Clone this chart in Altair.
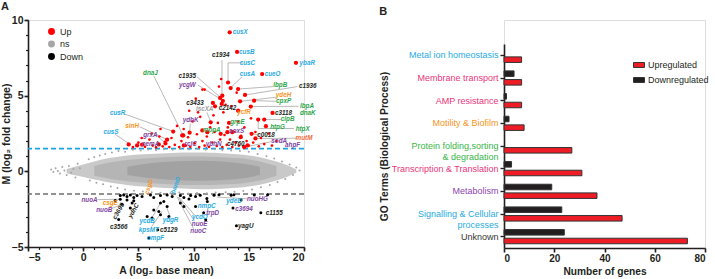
import altair as alt
import pandas as pd

FONT = "Liberation Sans"

# ---------------- Panel A: MA plot ----------------
# envelope of the dense grey (ns) cloud
cloud_A = [-1.5, -0.5, 0.5, 1.5, 2.5, 3.5, 4.5, 5.5, 6.5, 7.5, 8.5, 9.5, 10.5, 11.5, 12.5, 13.5, 14.5, 15.5, 16.5, 17.5, 18.5, 19.3]
outer_lo = [-0.12, -0.3, -0.45, -0.6, -0.75, -0.85, -0.95, -1.0, -1.05, -1.1, -1.12, -1.15, -1.18, -1.18, -1.15, -1.1, -1.05, -0.95, -0.8, -0.6, -0.35, -0.1]
outer_hi = [0.15, 0.35, 0.55, 0.75, 0.9, 1.0, 1.08, 1.13, 1.17, 1.2, 1.22, 1.24, 1.24, 1.22, 1.2, 1.15, 1.1, 1.0, 0.85, 0.65, 0.4, 0.12]
mid_A = [1.0, 2.5, 4.0, 5.5, 7.0, 8.5, 10.0, 11.5, 13.0, 14.5, 16.0, 17.5]
mid_lo = [-0.3, -0.5, -0.65, -0.75, -0.82, -0.88, -0.9, -0.9, -0.85, -0.78, -0.6, -0.3]
mid_hi = [0.35, 0.6, 0.75, 0.85, 0.92, 0.97, 0.98, 0.97, 0.92, 0.85, 0.65, 0.35]
core_A = [4.0, 5.5, 7.0, 8.5, 10.0, 11.5, 13.0, 14.5, 16.0]
core_lo = [-0.25, -0.4, -0.5, -0.58, -0.62, -0.6, -0.55, -0.45, -0.25]
core_hi = [0.3, 0.48, 0.6, 0.66, 0.7, 0.68, 0.62, 0.5, 0.3]

# scattered grey (ns) points at the edge of the cloud
ns_A = [-2.9, -2.7, -2.5, -2.3, -2.1, -1.9, -1.7, -1.5, -1.3, -1.1, -0.9, -0.7, -0.5, -0.3,
        0.5, 1.0, 1.5, 2.0, 2.6, 3.2, 3.8, 4.5, 5.2, 5.9, 6.6, 7.3, 8.1, 8.8, 9.6, 10.4, 11.1, 11.9, 12.6, 13.4, 14.2, 15.0, 15.8, 16.6, 17.3, 18.0, 18.7, 19.3, 19.6,
        0.6, 1.2, 1.8, 2.5, 3.1, 3.8, 4.6, 5.4, 6.2, 7.0, 7.9, 8.7, 9.5, 10.3, 11.2, 12.0, 12.9, 13.7, 14.5, 15.3, 16.1, 16.9, 17.6, 18.3, 19.0]
ns_M = [0.12, -0.05, 0.2, 0.02, -0.15, 0.28, 0.05, -0.25, 0.35, -0.1, 0.15, -0.4, 0.5, 0.2,
        0.8, 0.95, 1.05, 1.15, 1.25, 1.35, 1.3, 1.42, 1.38, 1.45, 1.4, 1.46, 1.42, 1.47, 1.44, 1.47, 1.42, 1.46, 1.4, 1.38, 1.35, 1.3, 1.15, 1.0, 0.85, 0.65, 0.45, 0.25, 0.05,
        -0.6, -0.75, -0.85, -1.0, -1.1, -1.2, -1.28, -1.33, -1.38, -1.42, -1.45, -1.4, -1.46, -1.43, -1.45, -1.4, -1.38, -1.35, -1.3, -1.2, -1.05, -0.9, -0.7, -0.5, -0.25]

# unlabelled up-regulated genes (small red dots)
up_small_A = [4.5, 5.0, 5.6, 6.0, 6.3, 6.6, 6.9, 7.2, 7.4, 7.8, 8.0, 8.3, 8.5, 8.7, 8.9, 9.1, 9.3, 9.5, 9.7, 9.9,
              10.1, 10.3, 10.5, 10.6, 10.8, 11.0, 11.2, 11.4, 11.5, 11.7, 11.9, 12.1, 12.2, 12.4, 12.6, 12.7, 12.8,
              13.0, 13.1, 13.3, 13.4, 13.5, 13.7, 13.8, 14.0, 14.1, 14.3, 14.5, 14.6, 14.8, 15.0, 15.2, 15.4, 15.6,
              15.9, 16.1, 16.4, 16.8, 17.1, 17.5, 12.3, 12.5, 12.9, 11.0, 10.2, 9.6, 13.9, 7.0, 6.2, 5.3, 11.8, 10.4, 10.8]
up_small_M = [1.6, 1.9, 1.62, 2.1, 1.7, 1.58, 2.3, 1.65, 1.95, 1.6, 2.2, 1.75, 3.0, 1.6, 2.0, 2.8, 1.7, 2.25, 1.62, 3.3,
              1.85, 2.45, 1.6, 3.6, 2.0, 1.7, 2.3, 1.62, 2.9, 1.9, 2.6, 1.68, 3.2, 2.1, 1.6, 3.9, 2.4,
              1.75, 2.9, 2.1, 4.3, 1.6, 2.6, 1.9, 3.3, 1.7, 2.35, 1.62, 2.9, 2.0, 1.7, 3.5, 1.9, 2.6,
              1.65, 2.2, 1.8, 2.5, 1.7, 2.0, 5.6, 6.1, 4.4, 5.4, 4.8, 4.0, 5.2, 2.8, 2.5, 2.2, 3.7, 3.9, 5.4]

# up-regulated genes drawn as larger red dots
up_big_A = [13.27, 13.94, 13.12, 13.36, 16.21, 19.27, 12.6, 12.4, 12.65, 9.06, 14.03, 14.66, 14.21, 15.48, 15.18,
            11.75, 11.94, 12.55, 11.55, 14.03, 17.15, 16.4, 15.85, 16.55, 13.21, 9.64, 10.79, 13.06, 15.25, 8.15,
            7.6, 4.12, 7.45, 4.88, 5.33, 6.85, 8.97, 12.45, 13.5, 14.27, 14.88, 11.24, 9.12, 15.6, 14.6]
up_big_M = [9.19, 7.89, 5.87, 5.5, 6.43, 7.17, 5.0, 4.85, 4.65, 2.37, 5.44, 5.05, 4.63, 4.67, 4.28,
            4.52, 4.3, 4.45, 3.24, 4.01, 3.86, 3.42, 3.42, 2.98, 3.2, 2.55, 2.7, 2.59, 2.48, 2.63,
            2.09, 1.78, 1.84, 1.71, 1.76, 1.78, 2.37, 2.48, 2.59, 2.26, 1.71, 2.59, 1.71, 2.17, 1.6]

# down-regulated genes (black dots)
down_A = [3.36, 3.67, 3.97, 4.27, 4.58, 4.88, 5.33, 6.09, 6.39, 7.0, 7.6, 8.06, 8.8, 9.12, 9.73, 10.18,
          3.97, 4.58, 2.9, 4.43, 3.52, 4.27, 7.0, 7.3, 7.6, 6.85, 6.39, 8.8, 9.12, 9.58, 7.0, 7.76, 6.24, 5.79,
          11.24, 11.1, 10.6, 11.85, 12.3, 13.4, 13.65, 15.5, 16.7, 11.2, 14.3,
          3.21, 6.75, 5.94, 10.18, 10.91, 13.57, 16.09, 13.88, 3.36]
down_M = [-1.6, -1.56, -1.67, -1.56, -1.73, -1.6, -1.67, -1.56, -1.73, -1.6, -1.56, -1.67, -1.6, -1.73, -1.6, -1.67,
          -1.89, -1.95, -1.93, -2.1, -2.17, -2.43, -2.1, -2.0, -2.33, -2.65, -2.55, -2.1, -2.33, -1.82, -2.87, -2.98, -3.09, -2.98,
          -2.0, -3.2, -1.58, -1.58, -1.55, -1.58, -1.55, -1.56, -1.55, -1.8, -1.9,
          -3.19, -3.86, -4.41, -2.32, -2.73, -2.43, -2.74, -3.6, -1.84]

# gene labels
lab_text = ["cusX", "cusB", "cusC", "cusA", "cueO", "ybaR", "c1934", "c1935", "ycgW", "dnaJ",
            "lbpB", "c1936", "ydeH", "cpxP", "lbpA", "c3433", "c2142", "iscXA", "ycfR", "c3118",
            "dnaK", "clpB", "htpG", "htpX", "grpE", "ydbK", "mopA", "soxS", "c0018", "cusR",
            "sinH", "cusS", "grxA", "nemA", "rclC", "ybhN", "c4760", "sodA", "ahpF", "mutM",
            "nuoA", "csgE", "nuoB", "c3695", "ydhC", "csgD", "bamD", "ycdB", "ydgR", "c3566",
            "kpsMT", "c5129", "ompF", "nmpC", "trpD", "ycdO", "nuoE", "nuoC", "ydeD", "nuoHG",
            "c3694", "c1155", "yagU"]
lab_A = [14.23, 14.82, 14.88, 14.88, 17.15, 20.3, 12.45, 9.43, 9.43, 6.09,
         17.85, 20.34, 18.15, 18.15, 20.27, 10.12, 13.06, 11.0, 14.57, 18.15,
         20.34, 18.52, 17.6, 19.88, 13.97, 9.73, 11.64, 13.9, 16.55, 3.12,
         4.43, 2.52, 6.09, 6.09, 9.73, 11.82, 13.82, 17.75, 18.97, 20.0,
         0.57, 2.45, 1.91, 3.18, 4.55, 5.95, 8.36, 5.79, 7.91, 3.21,
         5.94, 7.75, 6.55, 11.18, 11.73, 10.57, 10.55, 10.43, 13.66, 15.79,
         14.57, 17.3, 14.73]
lab_M = [9.19, 7.89, 7.17, 6.43, 6.43, 7.17, 7.68, 6.3, 5.72, 6.53,
         5.7, 5.66, 5.07, 4.63, 4.34, 4.52, 4.16, 4.1, 3.9, 3.88,
         3.88, 3.44, 2.96, 2.83, 3.24, 3.4, 2.7, 2.65, 2.37, 3.86,
         3.0, 2.59, 2.43, 1.82, 1.81, 1.78, 1.82, 1.99, 1.76, 2.19,
         -1.87, -2.1, -2.57, -2.63, -2.6, -1.02, -0.92, -3.31, -3.2, -3.65,
         -3.9, -3.86, -4.41, -2.32, -2.73, -3.05, -3.45, -3.95, -1.95, -1.8,
         -2.48, -2.78, -3.6]
lab_color = ["b", "b", "b", "b", "b", "b", "k", "k", "p", "g",
             "g", "k", "o", "g", "g", "k", "k", "s", "o", "k",
             "g", "g", "g", "g", "g", "p", "g", "p", "k", "b",
             "o", "b", "p", "p", "p", "p", "k", "p", "p", "r",
             "p", "o", "p", "k", "k", "o", "b", "b", "b", "k",
             "b", "k", "b", "b", "p", "b", "p", "p", "b", "p",
             "p", "k", "k"]
lab_angle = [0] * 43 + [300, 300, 290, 290] + [0] * 16

# connector lines from label to dot
seg_A1 = [14.4, 13.12, 14.4, 12.57, 10.3, 10.4, 6.4, 17.2, 19.4, 17.5, 17.45, 19.5, 11.2, 17.9, 19.1, 15.85, 9.7, 3.7, 5.1, 2.9, 6.7, 17.1, 19.4, 15.9,
          1.3, 2.6, 6.2, 6.2, 7.85, 10.1, 10.1, 10.0, 14.9]
seg_M1 = [7.17, 7.17, 6.25, 7.35, 6.25, 5.7, 6.3, 5.6, 5.6, 4.9, 4.63, 4.3, 3.9, 3.42, 2.83, 2.83, 3.15, 3.8, 2.95, 2.45, 2.35, 1.97, 2.19, 2.4,
          -1.87, -2.45, -3.1, -3.65, -2.95, -2.9, -3.3, -3.8, -1.82]
seg_A2 = [13.12, 13.12, 13.45, 12.57, 12.4, 12.6, 9.0, 14.1, 14.7, 14.3, 15.55, 15.25, 11.55, 16.5, 15.85, 15.85, 9.64, 8.1, 7.55, 4.1, 7.4, 14.6, 15.6, 15.3,
          3.3, 3.45, 7.0, 7.15, 7.55, 8.7, 8.6, 8.5, 12.1]
seg_M2 = [7.17, 5.87, 5.6, 5.05, 4.9, 4.7, 2.45, 5.44, 5.05, 4.63, 4.67, 4.28, 3.3, 3.42, 2.83, 3.38, 2.6, 2.65, 2.12, 1.85, 1.88, 1.6, 2.17, 2.48,
          -1.84, -2.2, -2.1, -2.65, -2.35, -1.72, -1.7, -1.68, -1.7]

# minor tick positions on both axes of panel A
minor_A = list(range(-5, 21))
minor_M = list(range(-5, 11))

color_map = {"b": "#29abe2", "g": "#2ea64a", "o": "#f7941d", "p": "#8045a0",
             "k": "#231f20", "s": "#9b9b9b", "r": "#f26c3a"}

# ---------------- Panel B: GO terms ----------------
categories = ["Metal ion homeostasis", "Membrane transport", "AMP resistance", "Motility & Biofilm",
              "Protein folding,sorting|& degradation", "Transcription & Translation", "Metabolism",
              "Signalling & Cellular|processes", "Unknown"]
up_counts = [7, 7, 7, 8, 27, 31, 37, 47, 73]
down_counts = [0, 4, 1, 2, 0, 3, 19, 23, 24]
cat_colors = ["#29abe2", "#e9357a", "#e9357a", "#f7941d", "#39b54a", "#e9357a", "#8e44ad", "#29abe2", "#333333"]

# ---------------- build tables ----------------
outer_df = pd.DataFrame({"A": cloud_A, "lo": outer_lo, "hi": outer_hi})
mid_df = pd.DataFrame({"A": mid_A, "lo": mid_lo, "hi": mid_hi})
core_df = pd.DataFrame({"A": core_A, "lo": core_lo, "hi": core_hi})

pts = pd.concat([
    pd.DataFrame({"A": ns_A, "M": ns_M, "status": "ns", "sz": 4}),
    pd.DataFrame({"A": up_small_A, "M": up_small_M, "status": "Up", "sz": 7}),
    pd.DataFrame({"A": up_big_A, "M": up_big_M, "status": "Up", "sz": 18}),
    pd.DataFrame({"A": down_A, "M": down_M, "status": "Down", "sz": 9}),
], ignore_index=True)

labels_df = pd.DataFrame({"text": lab_text, "A": lab_A, "M": lab_M,
                          "col": [color_map[c] for c in lab_color], "angle": lab_angle})
seg_df = pd.DataFrame({"A1": seg_A1, "M1": seg_M1, "A2": seg_A2, "M2": seg_M2})
thr_df = pd.DataFrame({"M": [1.5, -1.5], "kind": ["up", "down"]})
minor_df = pd.DataFrame({"A": minor_A + [minor_A[0]] * (len(minor_M)),
                         "M": [minor_M[0]] * len(minor_A) + minor_M})

xscale = alt.Scale(domain=[-5, 20], nice=False, zero=False)
yscale = alt.Scale(domain=[-5, 10], nice=False, zero=False)

axis_common = dict(labelFont=FONT, labelFontWeight="bold", labelFontSize=10.5, labelColor="#231f20",
                   titleFont=FONT, titleFontWeight="bold", titleFontSize=10.5, titleColor="#231f20",
                   domainColor="#231f20", domainWidth=1.6, tickColor="#231f20", tickWidth=1.6,
                   tickSize=4, labelPadding=1, grid=False)

xaxis = alt.Axis(values=[-5, 0, 5, 10, 15, 20], title="A (log₂ base mean)", titlePadding=3, orient="bottom", **axis_common)
yaxis = alt.Axis(values=[-5, 0, 5, 10], title="M (log₂ fold change)", titlePadding=0, orient="left", **axis_common)
minor_x = alt.Axis(values=minor_A, labels=False, domain=False, title="", orient="bottom", tickSize=2.5,
                   tickWidth=1.2, tickColor="#231f20", grid=False)
minor_y = alt.Axis(values=minor_M, labels=False, domain=False, title="", orient="left", tickSize=2.5,
                   tickWidth=1.2, tickColor="#231f20", grid=False)

W_A, H_A = 276, 227

outer = alt.Chart(outer_df).mark_area(color="#c9c9c9", interpolate="monotone").encode(
    x=alt.X("A:Q", scale=xscale, axis=xaxis), y=alt.Y("lo:Q", scale=yscale, axis=yaxis), y2="hi:Q")


def X(field):
    return alt.X(field, scale=xscale, axis=None)


def Y(field):
    return alt.Y(field, scale=yscale, axis=None)


minor = alt.Chart(minor_df).mark_point(opacity=0, size=1).encode(
    x=alt.X("A:Q", scale=xscale, axis=minor_x), y=alt.Y("M:Q", scale=yscale, axis=minor_y))
mid = alt.Chart(mid_df).mark_area(color="#b5b5b5", interpolate="monotone").encode(
    x=X("A:Q"), y=Y("lo:Q"), y2="hi:Q")
core = alt.Chart(core_df).mark_area(color="#a2a2a2", interpolate="monotone").encode(
    x=X("A:Q"), y=Y("lo:Q"), y2="hi:Q")

thr_up = alt.Chart(thr_df[thr_df.kind == "up"]).mark_rule(strokeDash=[5, 3], strokeWidth=1.6, color="#1fa2e0").encode(
    y=Y("M:Q"))
thr_dn = alt.Chart(thr_df[thr_df.kind == "down"]).mark_rule(strokeDash=[5, 3], strokeWidth=1.6, color="#6f6f6f").encode(
    y=Y("M:Q"))

segs = alt.Chart(seg_df).mark_rule(color="#8a8a8a", strokeWidth=0.6).encode(
    x=X("A1:Q"), y=Y("M1:Q"), x2="A2:Q", y2="M2:Q")

points = alt.Chart(pts).mark_circle(opacity=1).encode(
    x=X("A:Q"), y=Y("M:Q"),
    size=alt.Size("sz:Q", scale=None, legend=None),
    color=alt.Color("status:N", scale=alt.Scale(domain=["Up", "ns", "Down"], range=["#ff0000", "#a6a6a6", "#000000"]),
                    legend=alt.Legend(title=None, orient="none", legendX=19, legendY=7, symbolType="circle",
                                      symbolSize=48, labelFont=FONT, labelFontSize=9, labelColor="#231f20",
                                      rowPadding=2.5, labelOffset=4, symbolStrokeWidth=0)))

texts = alt.Chart(labels_df).mark_text(font=FONT, fontSize=6.3, fontStyle="italic", fontWeight="bold",
                                       align="center", baseline="middle").encode(
    x=X("A:Q"), y=Y("M:Q"),
    text="text:N",
    color=alt.Color("col:N", scale=None, legend=None),
    angle=alt.Angle("angle:Q", scale=None, legend=None))

panel_a = alt.layer(outer, minor, mid, core, thr_up, thr_dn, segs, points, texts).resolve_scale(
    color="independent").resolve_axis(x="independent", y="independent").properties(
    width=W_A, height=H_A,
    title=alt.TitleParams("A", anchor="start", font=FONT, fontSize=11, fontWeight="bold", offset=3, color="#231f20"))

# ---------------- Panel B ----------------
rows = []
for c, u, d in zip(categories, up_counts, down_counts):
    rows.append({"cat": c, "grp": "Upregulated", "n": u})
    if d > 0:
        rows.append({"cat": c, "grp": "Downregulated", "n": d})
bdf = pd.DataFrame(rows)

expr = "'#333333'"
for c, col in zip(categories, cat_colors):
    expr = f"(datum.value == '{c}' ? '{col}' : {expr})"

W_B, H_B = 201, 228
panel_b = alt.Chart(bdf).mark_bar(stroke="#333333", strokeWidth=1).encode(
    x=alt.X("n:Q", scale=alt.Scale(domain=[0, 80], nice=False),
            axis=alt.Axis(values=[0, 20, 40, 60, 80], title="Number of genes", titlePadding=3,
                          labelFont=FONT, labelFontWeight="bold", labelFontSize=10, labelColor="#231f20",
                          titleFont=FONT, titleFontWeight="bold", titleFontSize=10.2, titleColor="#231f20",
                          domainColor="#231f20", domainWidth=1.6, tickColor="#231f20", tickWidth=1.6,
                          tickSize=4, labelPadding=1, grid=False)),
    y=alt.Y("cat:N", sort=categories,
            scale=alt.Scale(domain=categories, paddingInner=0, paddingOuter=0, range=[24, 228]),
            axis=alt.Axis(title="GO Terms (Biological Process)", labelExpr="split(datum.value, '|')",
                          labelColor=alt.ExprRef(expr), labelFont=FONT, labelFontSize=9,
                          labelLineHeight=10.7, labelPadding=2, titlePadding=2,
                          titleFont=FONT, titleFontWeight="bold", titleFontSize=10.2, titleColor="#231f20",
                          domainColor="#231f20", domainWidth=1.6, tickColor="#231f20", tickWidth=1.4,
                          tickSize=4, grid=False)),
    yOffset=alt.YOffset("grp:N", sort=["Downregulated", "Upregulated"],
                        scale=alt.Scale(domain=["Downregulated", "Upregulated"], paddingInner=0.36, paddingOuter=0.49)),
    color=alt.Color("grp:N", scale=alt.Scale(domain=["Upregulated", "Downregulated"], range=["#ee1c25", "#231f20"]),
                    legend=alt.Legend(title=None, orient="none", legendX=605, legendY=39,
                                      symbolType="M-1,-0.45H1V0.45H-1Z", symbolSize=121,
                                      symbolStrokeColor="#333333", symbolStrokeWidth=1,
                                      labelFont=FONT, labelFontSize=9, labelColor="#231f20",
                                      rowPadding=4, labelOffset=3))
).properties(width=W_B, height=H_B,
             title=alt.TitleParams("B", anchor="start", font=FONT, fontSize=11, fontWeight="bold", offset=3, color="#231f20"))

chart = alt.hconcat(panel_a, panel_b, spacing=60).configure_view(stroke=None).configure(
    padding={"left": 0, "top": 0, "right": 0, "bottom": 0}, background="white")

chart.save("out.html", embed_options={"renderer": "svg", "actions": False})
